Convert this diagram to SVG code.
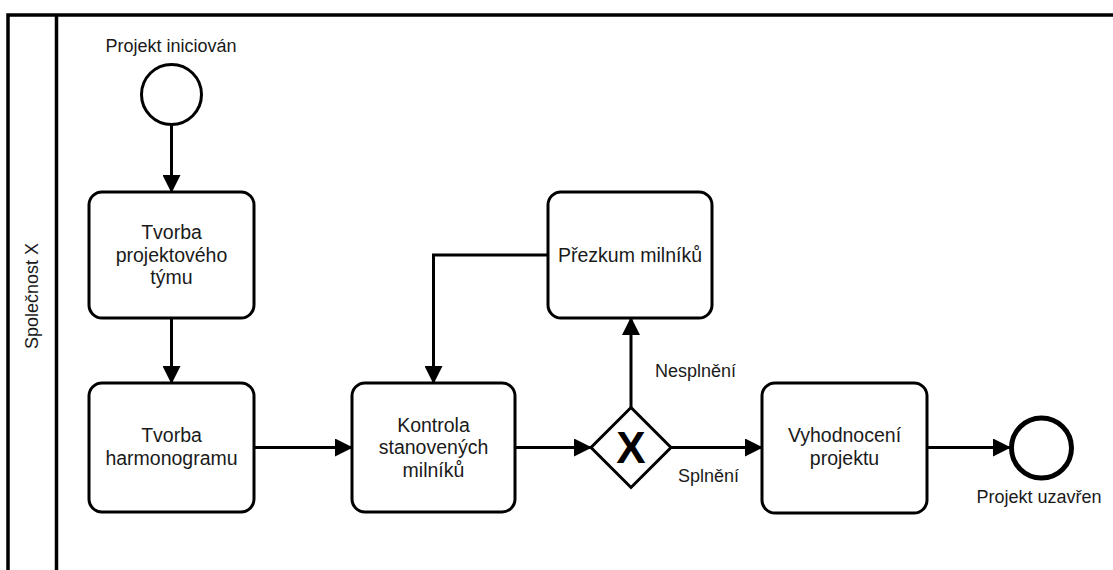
<svg xmlns="http://www.w3.org/2000/svg" width="1113" height="570" viewBox="0 0 1113 570">
<style>
.pool{fill:none;stroke:#000;stroke-width:3.5}
.task{fill:#fff;stroke:#000;stroke-width:3}
.ev{fill:#fff;stroke:#000;stroke-width:3}
.evEnd{fill:#fff;stroke:#000;stroke-width:5}
.edge{fill:none;stroke:#000;stroke-width:3}
text{font-family:"Liberation Sans",Arial,sans-serif;font-size:18px;fill:#1a1a1a}
.c{text-anchor:middle}
.t{font-size:19.5px}
.gx{font-size:44px;font-weight:bold;text-anchor:middle;fill:#000}
</style>
<defs>
<marker id="arr" viewBox="0 0 18 18" refX="17" refY="9" markerWidth="18" markerHeight="18" markerUnits="userSpaceOnUse" orient="auto">
<path d="M0,0 L18,9 L0,18 Z" fill="#000"/>
</marker>
</defs>
<rect width="1113" height="570" fill="#fff"/>
<g id="pool">
<rect class="pool" x="8" y="15" width="1130" height="580"/>
<line class="pool" x1="56.5" y1="15" x2="56.5" y2="590"/>
<text transform="translate(38,296) rotate(-90)" class="c">Společnost X</text>
</g>
<g id="connectors">
<line class="edge" x1="171.5" y1="124.5" x2="171.5" y2="192" marker-end="url(#arr)"/>
<line class="edge" x1="171.5" y1="318" x2="171.5" y2="383" marker-end="url(#arr)"/>
<line class="edge" x1="254" y1="447.5" x2="352" y2="447.5" marker-end="url(#arr)"/>
<line class="edge" x1="515" y1="447.5" x2="591" y2="447.5" marker-end="url(#arr)"/>
<line class="edge" x1="631" y1="407.5" x2="631" y2="318" marker-end="url(#arr)"/>
<polyline class="edge" points="548,255 433.5,255 433.5,383" marker-end="url(#arr)"/>
<line class="edge" x1="671" y1="447.5" x2="762" y2="447.5" marker-end="url(#arr)"/>
<line class="edge" x1="927" y1="447.5" x2="1010" y2="447.5" marker-end="url(#arr)"/>
<text x="655" y="377">Nesplnění</text>
<text x="678" y="482">Splnění</text>
</g>
<g id="start">
<circle class="ev" cx="171.5" cy="94.5" r="30"/>
<text x="171" y="52" class="c">Projekt iniciován</text>
</g>
<g id="task-tym">
<rect class="task" x="89" y="192" width="165" height="126" rx="13"/>
<text class="c t" x="171.5" y="238.5">Tvorba</text>
<text class="c t" x="171.5" y="261.5">projektového</text>
<text class="c t" x="171.5" y="284">týmu</text>
</g>
<g id="task-harmonogram">
<rect class="task" x="89" y="383" width="165" height="129" rx="13"/>
<text class="c t" x="171.5" y="442">Tvorba</text>
<text class="c t" x="171.5" y="465">harmonogramu</text>
</g>
<g id="task-kontrola">
<rect class="task" x="352" y="383" width="163" height="129" rx="13"/>
<text class="c t" x="433.5" y="431.5">Kontrola</text>
<text class="c t" x="433.5" y="454">stanovených</text>
<text class="c t" x="433.5" y="477">milníků</text>
</g>
<g id="task-prezkum">
<rect class="task" x="548" y="192" width="164" height="126" rx="13"/>
<text class="c t" x="630" y="261.5">Přezkum milníků</text>
</g>
<g id="gateway">
<polygon class="task" points="631,407.5 671,447.5 631,487.5 591,447.5"/>
<text class="gx" x="631" y="463">X</text>
</g>
<g id="task-vyhodnoceni">
<rect class="task" x="762" y="383" width="165" height="130" rx="13"/>
<text class="c t" x="844.5" y="442">Vyhodnocení</text>
<text class="c t" x="844.5" y="465">projektu</text>
</g>
<g id="end">
<circle class="evEnd" cx="1041.5" cy="448" r="30"/>
<text x="1039" y="503" class="c">Projekt uzavřen</text>
</g>
</svg>
